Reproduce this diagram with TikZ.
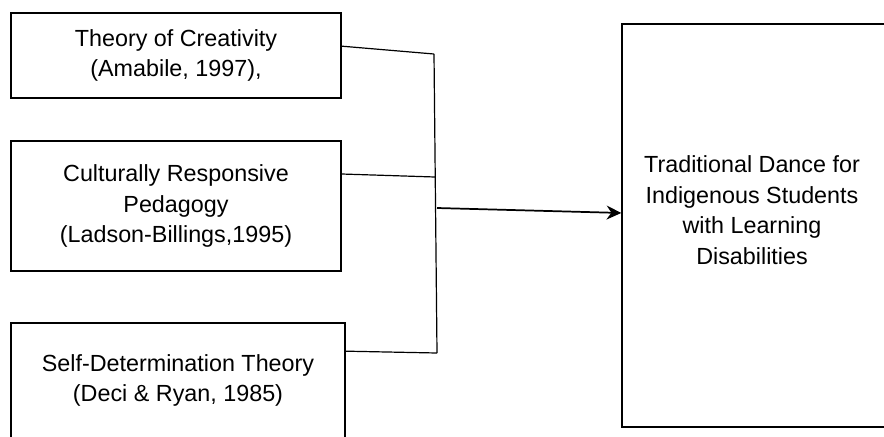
\documentclass[tikz,border=0pt]{standalone}
\usepackage{fontspec}
\setmainfont{Liberation Sans}
\usepackage{tikz}
\usetikzlibrary{arrows.meta}

\begin{document}
\begin{tikzpicture}[x=0.75pt, y=-0.75pt,
	every node/.style={font=\fontsize{17.5}{23}\selectfont, align=center},
	theorybox/.style={shape=rectangle, draw=black, line width=1.1pt, inner sep=0pt}]

	\useasboundingbox (0,0) rectangle (884,436);

	\node[theorybox, minimum width=247.5pt, minimum height=63.75pt] (creativity) at (176, 55.5) {Theory of Creativity\\(Amabile, 1997),};
	\node[theorybox, minimum width=247.5pt, minimum height=97.5pt] (pedagogy) at (176, 206) {Culturally Responsive\\Pedagogy\\(Ladson-Billings,1995)};
	\node[theorybox, minimum width=250.5pt, minimum height=86.25pt] (selfdet) at (178, 380.5) {Self-Determination Theory\\(Deci \& Ryan, 1985)};

	\node[theorybox, minimum width=198.75pt, minimum height=302.25pt] (dance) at (754.5, 225.5) {};
	\node (dancetext) at (752, 210) {Traditional Dance for\\Indigenous Students\\with Learning\\Disabilities};

	\coordinate (top) at (434, 54);
	\coordinate (mid) at (435, 177);
	\coordinate (out) at (437, 208);
	\coordinate (bottom) at (437, 353);

	\draw[line width=0.9pt] ([yshift=7pt]creativity.east) -- (top);
	\draw[line width=0.9pt] ([yshift=24pt]pedagogy.east) -- (mid);
	\draw[line width=0.9pt] ([yshift=22pt]selfdet.east) -- (bottom);
	\draw[line width=0.9pt] (top) -- (bottom);

	\draw[-{Stealth[length=11pt, width=10.5pt]}, line width=1.3pt] (out) -- ([yshift=9.4pt]dance.west);

\end{tikzpicture}
\end{document}
